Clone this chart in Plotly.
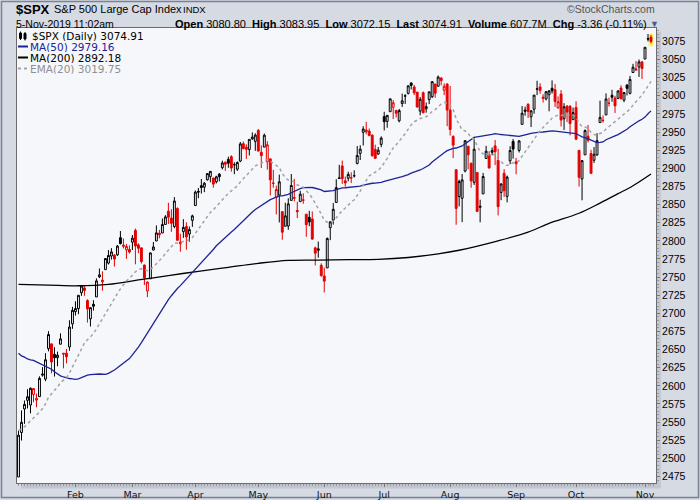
import plotly.graph_objects as go

# ---------------- data ----------------
opens = [
    2474.33, 2535.61, 2568.11, 2580.00, 2573.51, 2588.11, 2580.31, 2585.10, 2614.75, 2609.28, 2651.27, 2657.88, 2643.48, 2638.84, 2657.44, 2644.97, 2644.89, 2653.62, 2685.49,
    2702.32, 2706.49, 2728.34, 2735.05, 2717.53, 2692.36, 2712.40, 2722.61, 2750.30, 2743.50, 2760.24, 2769.28, 2779.05, 2780.24, 2780.67, 2804.35, 2792.36, 2787.50, 2788.11,
    2798.22, 2814.37, 2794.41, 2790.27, 2766.53, 2730.79, 2747.61, 2787.34, 2799.78, 2810.38, 2810.79, 2822.61, 2840.76, 2831.34, 2819.72, 2844.52, 2796.01, 2812.66, 2819.72, 2809.40, 2828.27,
    2848.63, 2868.24, 2876.09, 2873.99, 2884.16, 2888.46, 2886.58, 2881.37, 2891.92, 2900.86, 2908.32, 2912.26, 2916.04, 2904.81, 2898.78, 2909.99, 2934.00, 2928.99, 2925.81, 2940.58, 2937.14,
    2952.33, 2922.16, 2929.21, 2908.89, 2913.03, 2879.61, 2859.84, 2863.10, 2840.19, 2820.12, 2820.38, 2855.80, 2858.60, 2841.94, 2854.02, 2856.06, 2836.70, 2832.41, 2830.03, 2790.25, 2786.94, 2766.15,
    2751.53, 2762.64, 2818.09, 2828.51, 2852.87, 2885.83, 2903.27, 2882.73, 2886.24, 2886.82, 2889.75, 2906.71, 2920.55, 2949.60, 2952.71, 2951.42, 2945.78, 2926.07, 2919.66, 2932.94,
    2971.41, 2964.66, 2978.08, 2984.25, 2979.77, 2965.52, 2989.30, 2999.62, 3003.36, 3017.80, 3012.13, 3005.10, 2978.87, 3004.26, 2981.93, 2994.74, 2998.77, 3016.26, 3013.25, 3024.47, 3007.66, 3016.22,
    2980.32, 2943.90, 2898.07, 2861.18, 2858.65, 2896.21, 2930.51, 2907.07, 2880.72, 2894.15, 2846.20, 2864.74, 2913.48, 2919.01, 2922.04, 2930.94, 2911.07, 2866.70, 2893.14, 2861.28, 2910.37, 2937.09,
    2909.01, 2924.67, 2960.60, 2980.33, 2988.43, 2971.01, 2981.41, 3009.08, 3012.21, 2996.41, 2995.67, 3001.50, 3010.36, 3008.42, 2983.50, 3002.43, 2968.35, 2985.73, 2985.47, 2967.07,
    2983.69, 2924.78, 2885.38, 2918.56, 2944.23, 2920.40, 2911.10, 2918.55, 2963.07, 2965.81, 2973.61, 2989.68, 3000.77, 2996.84, 2996.48, 3010.73, 2994.01, 3014.78, 3003.32, 3032.12, 3035.39, 3039.74, 3046.90,
    3050.72, 3078.96, 3080.80,
]
highs = [
    2538.07, 2566.16, 2579.82, 2595.32, 2597.82, 2596.27, 2589.32, 2613.08, 2625.76, 2645.06, 2675.47, 2657.88, 2653.19, 2647.20, 2672.38, 2644.97, 2650.93, 2690.44, 2708.95,
    2716.66, 2724.99, 2738.98, 2738.08, 2719.32, 2708.07, 2718.05, 2748.19, 2761.85, 2757.90, 2775.66, 2787.33, 2789.88, 2781.58, 2794.20, 2813.49, 2803.12, 2795.76, 2793.73,
    2808.02, 2816.88, 2796.44, 2790.27, 2767.25, 2744.13, 2784.00, 2798.32, 2821.24, 2815.00, 2830.73, 2835.41, 2852.42, 2843.54, 2860.31, 2846.16, 2809.79, 2829.87, 2825.56, 2819.71, 2836.03,
    2869.40, 2872.90, 2885.25, 2881.28, 2893.24, 2895.95, 2886.88, 2889.71, 2893.42, 2910.54, 2909.60, 2916.06, 2918.00, 2908.40, 2909.51, 2936.31, 2936.83, 2933.10, 2939.88, 2949.52, 2948.22,
    2954.13, 2931.68, 2947.85, 2937.32, 2913.03, 2897.96, 2875.97, 2891.31, 2840.19, 2852.54, 2858.68, 2892.15, 2885.48, 2853.86, 2868.88, 2865.47, 2836.70, 2841.36, 2840.51, 2792.03, 2799.00, 2768.98,
    2763.07, 2804.49, 2827.28, 2852.10, 2884.97, 2904.77, 2910.61, 2888.57, 2895.24, 2894.45, 2897.27, 2930.79, 2931.74, 2958.06, 2964.15, 2954.92, 2946.52, 2932.59, 2929.30, 2943.98,
    2977.93, 2973.21, 2995.84, 2994.03, 2980.76, 2981.90, 3002.98, 3002.33, 3013.92, 3017.80, 3015.02, 3005.26, 2998.28, 3006.02, 2990.71, 3005.90, 3019.59, 3016.31, 3027.98, 3025.61, 3017.19, 3017.40,
    3013.59, 2945.50, 2898.07, 2884.40, 2892.17, 2938.72, 2930.51, 2907.58, 2943.31, 2894.15, 2856.67, 2893.63, 2931.00, 2923.63, 2928.73, 2939.08, 2927.01, 2879.27, 2898.79, 2890.03, 2930.50, 2940.43,
    2914.39, 2938.84, 2985.86, 2985.03, 2989.43, 2979.39, 3000.93, 3020.74, 3017.33, 3002.19, 3006.21, 3007.83, 3021.19, 3016.37, 2999.15, 3007.98, 2989.82, 2987.28, 2987.31, 2983.85,
    2992.53, 2924.78, 2911.13, 2953.74, 2959.75, 2925.47, 2929.32, 2948.46, 2993.28, 2972.84, 3003.28, 2997.54, 3008.29, 3000.00, 3007.33, 3014.57, 3004.78, 3016.07, 3027.39, 3044.08, 3047.87, 3050.10, 3046.90,
    3066.95, 3085.20, 3083.95,
]
lows = [
    2474.33, 2524.56, 2547.56, 2568.89, 2562.02, 2577.40, 2570.41, 2585.10, 2612.68, 2606.36, 2647.58, 2617.27, 2612.86, 2627.01, 2657.33, 2624.06, 2631.05, 2648.34, 2678.65,
    2696.88, 2698.75, 2724.03, 2724.15, 2687.26, 2681.83, 2703.79, 2722.61, 2748.63, 2731.23, 2760.24, 2767.29, 2774.06, 2764.55, 2779.11, 2794.99, 2789.47, 2775.13, 2782.51,
    2787.38, 2767.66, 2782.97, 2768.69, 2739.09, 2722.27, 2747.61, 2786.73, 2799.78, 2803.46, 2810.79, 2821.99, 2823.27, 2812.43, 2817.38, 2800.47, 2785.02, 2803.99, 2787.72, 2798.77, 2819.23,
    2848.63, 2858.75, 2865.17, 2867.14, 2882.99, 2880.78, 2873.33, 2879.13, 2881.99, 2898.37, 2896.48, 2900.71, 2895.45, 2891.90, 2896.35, 2908.53, 2926.05, 2912.84, 2917.56, 2939.35, 2924.11,
    2923.36, 2900.50, 2929.21, 2898.21, 2862.60, 2873.28, 2836.40, 2825.39, 2801.43, 2820.12, 2815.08, 2855.80, 2854.23, 2831.29, 2854.02, 2851.11, 2805.49, 2820.19, 2801.58, 2766.06, 2776.74, 2750.52,
    2728.81, 2762.64, 2800.92, 2822.45, 2852.87, 2885.51, 2878.53, 2874.68, 2881.99, 2879.62, 2887.30, 2905.44, 2911.43, 2931.50, 2946.87, 2944.05, 2916.01, 2912.99, 2918.57, 2929.05,
    2952.22, 2955.92, 2977.96, 2967.97, 2970.09, 2963.44, 2984.62, 2988.80, 3001.87, 3008.77, 3001.15, 2984.25, 2973.09, 2975.86, 2976.65, 2988.56, 2996.82, 2997.24, 3012.59, 3014.30, 3000.94, 2958.08,
    2945.23, 2914.11, 2822.12, 2847.42, 2825.71, 2894.47, 2898.51, 2873.14, 2877.05, 2839.64, 2825.51, 2864.74, 2913.48, 2899.60, 2917.91, 2904.51, 2834.97, 2856.00, 2860.59, 2853.05, 2905.67, 2913.32,
    2891.85, 2921.86, 2960.60, 2972.51, 2969.39, 2957.01, 2975.31, 3000.92, 3002.90, 2990.67, 2993.73, 2978.57, 3003.16, 2984.68, 2982.23, 2957.73, 2952.86, 2963.71, 2945.53, 2967.07,
    2938.70, 2874.93, 2855.94, 2918.56, 2935.68, 2892.66, 2907.41, 2917.12, 2963.07, 2962.94, 2973.61, 2985.20, 2991.79, 2976.31, 2995.35, 2995.04, 2991.21, 3000.42, 3001.94, 3032.12, 3034.81, 3025.96, 3023.19,
    3050.72, 3074.87, 3072.15,
]
closes = [
    2531.94, 2549.69, 2574.41, 2584.96, 2596.64, 2596.26, 2582.61, 2610.30, 2616.10, 2635.96, 2670.71, 2632.90, 2638.70, 2642.33, 2664.76, 2643.85, 2640.00, 2681.05, 2704.10,
    2706.53, 2724.87, 2737.70, 2731.61, 2706.05, 2707.88, 2709.80, 2744.73, 2753.03, 2745.73, 2775.60, 2779.76, 2784.70, 2774.88, 2792.67, 2796.11, 2793.90, 2792.38, 2784.49,
    2803.69, 2792.81, 2789.65, 2771.45, 2748.93, 2743.07, 2783.30, 2791.52, 2810.92, 2808.48, 2822.48, 2832.94, 2832.57, 2824.23, 2854.88, 2800.71, 2798.36, 2818.46, 2805.37, 2815.44, 2834.40,
    2867.19, 2867.24, 2873.40, 2879.39, 2892.74, 2895.77, 2878.20, 2888.21, 2888.32, 2907.41, 2905.58, 2907.06, 2900.45, 2905.03, 2907.97, 2933.68, 2927.25, 2926.17, 2939.88, 2943.03, 2945.83,
    2923.73, 2917.52, 2945.64, 2932.47, 2884.05, 2879.42, 2870.72, 2881.40, 2811.87, 2834.41, 2850.96, 2876.32, 2859.53, 2840.23, 2864.36, 2856.27, 2822.24, 2826.06, 2802.39, 2783.02, 2788.86, 2752.06,
    2744.45, 2803.27, 2826.15, 2843.49, 2873.34, 2886.73, 2885.72, 2879.84, 2891.64, 2886.98, 2889.67, 2917.75, 2926.46, 2954.18, 2950.46, 2945.35, 2917.38, 2913.78, 2924.92, 2941.76,
    2964.33, 2973.01, 2995.82, 2990.41, 2975.95, 2979.63, 2993.07, 2999.91, 3013.77, 3014.30, 3004.04, 2984.42, 2995.11, 2976.61, 2985.03, 3005.47, 3019.56, 3003.67, 3025.86, 3020.97, 3013.18, 2980.38,
    2953.56, 2932.05, 2844.74, 2881.77, 2883.98, 2938.09, 2918.65, 2882.70, 2926.32, 2840.60, 2847.60, 2888.68, 2923.65, 2900.51, 2924.43, 2922.95, 2847.11, 2878.38, 2869.16, 2887.94, 2924.58, 2926.46,
    2906.27, 2937.78, 2976.00, 2978.71, 2978.43, 2979.39, 3000.93, 3009.57, 3007.39, 2997.96, 3005.70, 3006.73, 3006.79, 2992.07, 2991.78, 2966.60, 2984.87, 2977.62, 2961.79, 2976.74,
    2940.25, 2887.61, 2910.63, 2952.01, 2938.79, 2893.06, 2919.40, 2938.13, 2970.27, 2966.15, 2995.68, 2989.69, 2997.95, 2986.20, 3006.72, 2995.99, 3004.52, 3010.29, 3022.55, 3039.42, 3036.89, 3046.77, 3037.56,
    3066.91, 3078.27, 3074.91,
]
close_before_first = 2447.89

ma50 = [
    2645.0, 2641.2, 2639.5, 2637.1, 2635.9, 2635.0, 2633.0, 2631.0, 2628.5, 2626.8, 2625.4, 2622.9, 2619.4, 2616.2, 2613.8, 2612.2, 2610.6, 2610.1, 2609.6,
    2609.0, 2609.7, 2611.6, 2613.3, 2614.7, 2615.4, 2616.0, 2616.0, 2616.3, 2616.0, 2615.7, 2617.3, 2619.1, 2621.9, 2625.0, 2628.2, 2631.1, 2633.9, 2637.6,
    2642.8, 2647.7, 2653.4, 2659.5, 2666.1, 2673.9, 2680.3, 2686.3, 2692.8, 2698.8, 2705.1, 2712.8, 2718.8, 2724.3, 2729.9, 2734.2, 2738.2, 2742.7, 2747.1, 2751.2, 2755.6,
    2760.2, 2764.2, 2769.0, 2773.8, 2778.8, 2783.4, 2788.1, 2793.1, 2797.2, 2801.3, 2805.3, 2808.9, 2812.2, 2815.6, 2819.7, 2824.2, 2828.5, 2832.2, 2835.9, 2839.8, 2843.2,
    2846.1, 2848.8, 2852.2, 2855.0, 2856.8, 2858.5, 2860.0, 2862.0, 2862.1, 2863.0, 2864.2, 2866.3, 2868.5, 2870.4, 2872.1, 2873.4, 2873.6, 2873.9, 2873.5, 2872.5, 2871.7, 2870.2,
    2868.0, 2868.1, 2868.6, 2869.1, 2870.5, 2871.9, 2872.9, 2873.2, 2873.7, 2873.9, 2874.1, 2874.6, 2875.3, 2876.8, 2878.0, 2879.2, 2879.4, 2879.5, 2879.9, 2880.7,
    2881.9, 2883.2, 2884.4, 2885.7, 2886.7, 2887.5, 2888.5, 2889.6, 2891.4, 2893.3, 2894.5, 2895.5, 2897.7, 2899.7, 2902.0, 2904.5, 2908.6, 2912.0, 2915.5, 2918.4, 2921.5, 2924.3,
    2926.0, 2927.6, 2928.0, 2929.1, 2930.8, 2933.9, 2936.5, 2939.1, 2942.7, 2943.4, 2943.9, 2944.8, 2945.8, 2946.1, 2946.8, 2947.7, 2946.8, 2946.6, 2946.2, 2945.6, 2945.6, 2945.0,
    2944.2, 2944.0, 2945.2, 2946.5, 2947.5, 2948.3, 2949.0, 2949.8, 2950.0, 2950.1, 2950.7, 2951.3, 2951.6, 2951.4, 2951.0, 2950.0, 2949.6, 2949.5, 2948.8, 2948.8,
    2947.9, 2945.6, 2943.4, 2942.4, 2940.6, 2938.1, 2936.2, 2935.3, 2935.7, 2936.4, 2939.4, 2941.5, 2943.8, 2944.8, 2946.5, 2948.8, 2950.4, 2953.8, 2957.3, 2960.3, 2962.5, 2965.5, 2967.7,
    2970.6, 2975.2, 2979.2,
]
ema20 = [
    2539.2, 2540.2, 2543.5, 2547.4, 2552.1, 2556.3, 2558.8, 2563.7, 2568.7, 2575.1, 2584.2, 2588.8, 2593.6, 2598.2, 2604.5, 2608.2, 2611.2, 2617.8, 2626.0,
    2633.7, 2642.4, 2651.5, 2659.1, 2663.6, 2667.8, 2671.8, 2678.7, 2685.8, 2691.5, 2699.5, 2707.1, 2714.5, 2720.3, 2727.2, 2733.8, 2739.5, 2744.5, 2748.3,
    2753.6, 2757.3, 2760.4, 2761.5, 2760.3, 2758.7, 2761.0, 2763.9, 2768.4, 2772.2, 2777.0, 2782.3, 2787.1, 2790.6, 2796.7, 2797.1, 2797.2, 2799.2, 2799.8, 2801.3, 2804.5,
    2810.5, 2815.9, 2821.4, 2826.9, 2833.2, 2839.2, 2842.9, 2847.2, 2851.1, 2856.5, 2861.2, 2865.6, 2868.9, 2872.3, 2875.7, 2881.2, 2885.6, 2889.5, 2894.3, 2898.9, 2903.4,
    2905.3, 2906.5, 2910.2, 2912.3, 2909.6, 2906.7, 2903.3, 2901.2, 2892.7, 2887.2, 2883.8, 2883.1, 2880.9, 2877.0, 2875.8, 2873.9, 2869.0, 2864.9, 2859.0, 2851.8, 2845.8, 2836.9,
    2828.1, 2825.7, 2825.7, 2827.4, 2831.8, 2837.0, 2841.6, 2845.2, 2849.6, 2853.2, 2856.7, 2862.5, 2868.6, 2876.7, 2883.7, 2889.6, 2892.2, 2894.3, 2897.2, 2901.4,
    2907.4, 2913.6, 2921.4, 2928.0, 2932.6, 2937.1, 2942.4, 2947.9, 2954.2, 2959.9, 2964.1, 2966.0, 2968.8, 2969.5, 2971.0, 2974.3, 2978.6, 2981.0, 2985.3, 2988.7, 2991.0, 2990.0,
    2986.5, 2981.3, 2968.3, 2960.1, 2952.9, 2951.5, 2948.4, 2942.1, 2940.6, 2931.1, 2923.2, 2919.9, 2920.3, 2918.4, 2919.0, 2919.4, 2912.5, 2909.3, 2905.5, 2903.8, 2905.8, 2907.8,
    2907.7, 2910.6, 2916.8, 2922.7, 2928.0, 2932.9, 2939.4, 2946.1, 2951.9, 2956.3, 2961.0, 2965.4, 2969.3, 2971.5, 2973.4, 2972.8, 2973.9, 2974.3, 2973.1, 2973.4,
    2970.2, 2962.3, 2957.4, 2956.9, 2955.2, 2949.3, 2946.5, 2945.7, 2948.0, 2949.7, 2954.1, 2957.5, 2961.4, 2963.8, 2967.9, 2970.6, 2973.8, 2977.3, 2981.6, 2987.1, 2991.8, 2997.0, 3000.9,
    3007.2, 3014.0, 3019.8,
]
ma200_day = [0, 10, 20, 30, 40, 50, 60, 70, 80, 90, 100, 110, 120, 130, 140, 147, 160, 170, 177, 187, 194, 200, 205, 211]
ma200_val = [2740, 2739, 2738, 2740, 2746, 2752, 2758, 2763.5, 2769, 2773, 2773.5, 2774, 2774.5, 2777, 2782, 2787, 2800, 2812, 2824, 2838, 2852, 2865, 2876, 2892.18]

month_day = [19, 38, 59, 80, 102, 122, 144, 166, 186, 209]
month_labels = ["Feb", "Mar", "Apr", "May", "Jun", "Jul", "Aug", "Sep", "Oct", "Nov"]
price_ticks = list(range(2475, 3076, 25))

# ---------------- styling ----------------
W, H = 700, 500
ML, MR, MT, MB = 17, 44, 28, 17
PW, PH = W - ML - MR, H - MT - MB
PAPER_BG = "#d5dae3"
PLOT_BG = "#f5f7fb"
RED = "#e40000"
BLACK = "#000000"
BLUE = "#1e2396"
GRAY = "#a3a3a3"
AX = "Arial"
VF = "DejaVu Sans"


def px(x):
    return (x - ML) / PW


def py(y):
    return 1 - (y - MT) / PH


n = len(closes)
days = list(range(n))
prev = [close_before_first] + closes[:-1]
black_days = [i for i in days if closes[i] >= prev[i]]
red_days = [i for i in days if closes[i] < prev[i]]


def candle_trace(sel, color):
    return go.Candlestick(
        x=sel,
        open=[opens[i] for i in sel],
        high=[highs[i] for i in sel],
        low=[lows[i] for i in sel],
        close=[closes[i] for i in sel],
        increasing=dict(line=dict(color=color, width=1), fillcolor=PLOT_BG),
        decreasing=dict(line=dict(color=color, width=1), fillcolor=color),
        whiskerwidth=0,
        hoverinfo="skip",
        showlegend=False,
    )


fig = go.Figure()
fig.add_trace(go.Scatter(x=ma200_day, y=ma200_val, mode="lines",
                         line=dict(color=BLACK, width=1.3, shape="spline"),
                         hoverinfo="skip", showlegend=False))
fig.add_trace(go.Scatter(x=days, y=ma50, mode="lines",
                         line=dict(color=BLUE, width=1.3),
                         hoverinfo="skip", showlegend=False))
fig.add_trace(go.Scatter(x=days, y=ema20, mode="lines",
                         line=dict(color=GRAY, width=1.5, dash="dot"),
                         hoverinfo="skip", showlegend=False))
fig.add_trace(candle_trace(black_days, BLACK))
fig.add_trace(candle_trace(red_days, RED))

last = n - 1
shapes = [
    dict(type="rect", xref="paper", yref="paper", x0=px(1.5), x1=px(698.5), y0=py(1.5), y1=py(497.5),
         line=dict(color="#7b8392", width=1.5), fillcolor="rgba(0,0,0,0)", layer="below"),
    dict(type="rect", xref="paper", yref="paper", x0=px(21), x1=px(661), y0=py(32), y1=py(488.5),
         line=dict(width=0), fillcolor="#c2c7d1", layer="below"),
    dict(type="rect", xref="paper", yref="paper", x0=0, x1=1, y0=0, y1=1,
         line=dict(width=0), fillcolor=PLOT_BG, layer="below"),
    dict(type="rect", xref="x", yref="y", x0=last - 0.8, x1=last + 0.85,
         y0=lows[last] - 4, y1=highs[last] + 1.5,
         line=dict(width=0), fillcolor="#fbf25a", layer="below"),
    dict(type="line", xref="paper", yref="paper", x0=px(18), x1=px(28), y0=py(46.5), y1=py(46.5),
         line=dict(color=BLUE, width=2)),
    dict(type="line", xref="paper", yref="paper", x0=px(18), x1=px(28), y0=py(57.5), y1=py(57.5),
         line=dict(color=BLACK, width=2)),
    dict(type="line", xref="paper", yref="paper", x0=px(18), x1=px(28), y0=py(68.5), y1=py(68.5),
         line=dict(color=GRAY, width=2, dash="dot")),
    dict(type="rect", xref="paper", yref="paper", x0=px(19.5), x1=px(21.5), y0=py(38.5), y1=py(33),
         line=dict(color=BLACK, width=1), fillcolor=PLOT_BG),
    dict(type="line", xref="paper", yref="paper", x0=px(20.5), x1=px(20.5), y0=py(40), y1=py(31.5),
         line=dict(color=BLACK, width=1)),
    dict(type="rect", xref="paper", yref="paper", x0=px(24), x1=px(26), y0=py(39), y1=py(33.5),
         line=dict(color=BLACK, width=1), fillcolor=BLACK),
    dict(type="line", xref="paper", yref="paper", x0=px(25), x1=px(25), y0=py(40.5), y1=py(32),
         line=dict(color=BLACK, width=1)),
]


def note(text, x, y, size, color="#000000", family=AX, anchor="left", height=None):
    d = dict(text=text, x=px(x), y=py(y), xref="paper", yref="paper",
             xanchor=anchor, yanchor="middle", showarrow=False, borderpad=0,
             font=dict(size=size, color=color, family=family))
    if height is not None:
        d["height"] = height
    return d


annotations = [
    note("<b>$SPX</b>", 15, 10, 13),
    note("S&P 500 Large Cap Index", 53, 9.5, 11),
    note("INDX", 182, 10, 9.5),
    note("5-Nov-2019 11:02am", 15, 23.5, 10.5),
    note("<b>Open</b> 3080.80  <b>High</b> 3083.95  <b>Low</b> 3072.15  <b>Last</b> 3074.91  "
         "<b>Volume</b> 607.7M  <b>Chg</b> -3.36 (-0.11%)", 648, 23.5, 11, anchor="right"),
    note("▼", 649, 24, 9, color="#4a5a8c"),
    note("©StockCharts.com", 656, 9, 10.5, color="#555555", anchor="right"),
    note("$SPX (Daily) 3074.91", 31, 35.5, 10.5, family=VF, height=11),
    note("MA(50) 2979.16", 28.5, 46.5, 10.5, color=BLUE, family=VF, height=11),
    note("MA(200) 2892.18", 28.5, 57.5, 10.5, family=VF, height=11),
    note("EMA(20) 3019.75", 28.5, 68.5, 10.5, color="#8f8f8f", family=VF, height=11),
]

fig.update_layout(
    width=W, height=H, autosize=False,
    margin=dict(l=ML, r=MR, t=MT, b=MB, pad=0, autoexpand=False),
    paper_bgcolor=PAPER_BG,
    plot_bgcolor=PLOT_BG,
    showlegend=False,
    shapes=shapes,
    annotations=annotations,
    boxgap=0.1,
    xaxis=dict(
        range=[-0.5, 212.67], rangeslider=dict(visible=False), automargin=False,
        tickmode="array", tickvals=month_day, ticktext=month_labels,
        ticks="outside", ticklen=3, tickcolor="#777777",
        minor=dict(dtick=1, tick0=0, ticks="outside", ticklen=2, tickcolor="#9a9a9a"),
        tickfont=dict(family=VF, size=9.5, color="#111111"),
        showgrid=False, zeroline=False,
        showline=True, linecolor="#6c6c6c", linewidth=1, mirror=True,
        fixedrange=True,
    ),
    yaxis=dict(
        side="right", range=[2466, 3093.5], automargin=False,
        tickmode="array", tickvals=price_ticks,
        ticks="outside", ticklen=3, tickcolor="#777777",
        minor=dict(dtick=5, tick0=2475, ticks="outside", ticklen=2, tickcolor="#9a9a9a"),
        tickfont=dict(family=AX, size=10.5, color="#000000"),
        showgrid=False, zeroline=False,
        showline=True, linecolor="#6c6c6c", linewidth=1, mirror=True,
        fixedrange=True,
    ),
)

fig.write_html(
    "out.html",
    config={"displayModeBar": False, "responsive": False},
    post_script="document.body.style.margin='0';document.body.style.padding='0';"
                "document.body.style.overflow='hidden';",
)
